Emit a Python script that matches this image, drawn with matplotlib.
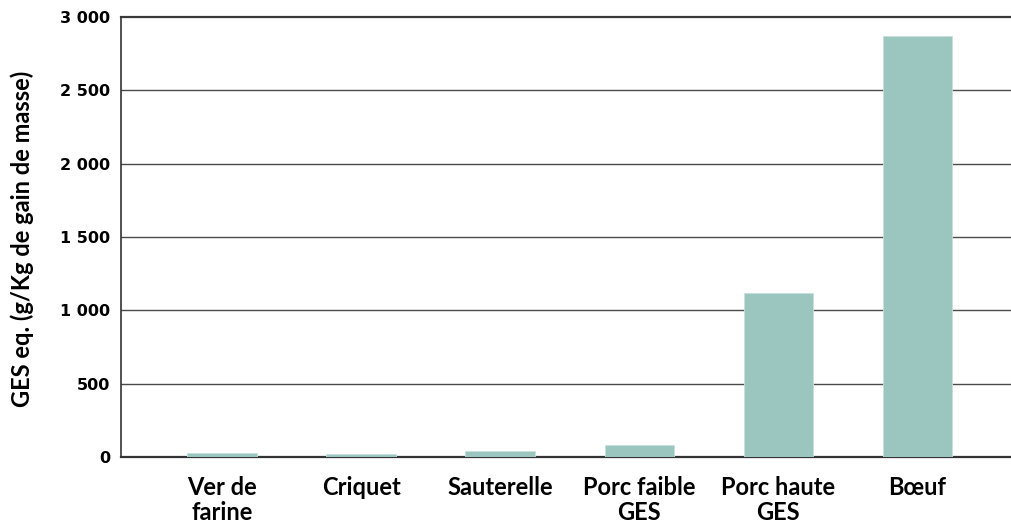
import matplotlib
matplotlib.use("Agg")
import matplotlib.pyplot as plt
import numpy as np

categories = ["Ver de\nfarine", "Criquet", "Sauterelle", "Porc faible\nGES", "Porc haute\nGES", "Bœuf"]
values = [25, 20, 40, 85, 1120, 2870]
yticks = [0, 500, 1000, 1500, 2000, 2500, 3000]
ytick_labels = ["0", "500", "1 000", "1 500", "2 000", "2 500", "3 000"]
ylabel = "GES eq. (g/Kg de gain de masse)"

fig = plt.figure(figsize=(10.12, 5.30), dpi=100)
ax = fig.add_axes([121/1012, 1 - 457/530, 1 - 121/1012, 440/530])

x = np.arange(len(categories))
ax.bar(x, values, width=0.5, color="#9BC6C0", edgecolor="#C8E0DC", linewidth=0.6, zorder=3)

ax.set_xlim(-0.727, 5.68)
ax.set_ylim(0, 3000)
ax.set_yticks(yticks)
ax.set_yticklabels(ytick_labels, fontfamily=["DejaVu Sans"], fontweight="bold", fontsize=11.5)
ax.set_xticks(x)
ax.set_xticklabels(categories, fontfamily=["Lato", "DejaVu Sans"], fontweight="bold", fontsize=17, va="top", linespacing=1.1)
ax.tick_params(axis="x", length=0, pad=14)
ax.tick_params(axis="y", length=0, pad=8)

for t in yticks[1:-1]:
    ax.axhline(t, color="#4a4a4a", linewidth=1.0, zorder=1)
ax.axhline(3000, color="#3a3a3a", linewidth=1.6, zorder=1, clip_on=False)

for s in ["top", "right"]:
    ax.spines[s].set_visible(False)
ax.spines["left"].set_color("#333333")
ax.spines["left"].set_linewidth(1.2)
ax.spines["bottom"].set_color("#333333")
ax.spines["bottom"].set_linewidth(1.6)

ax.set_ylabel(ylabel, fontfamily=["Lato", "DejaVu Sans"], fontweight="bold", fontsize=17)
ax.yaxis.set_label_coords(-0.098, 0.495)

fig.savefig("out.png", dpi=100)
